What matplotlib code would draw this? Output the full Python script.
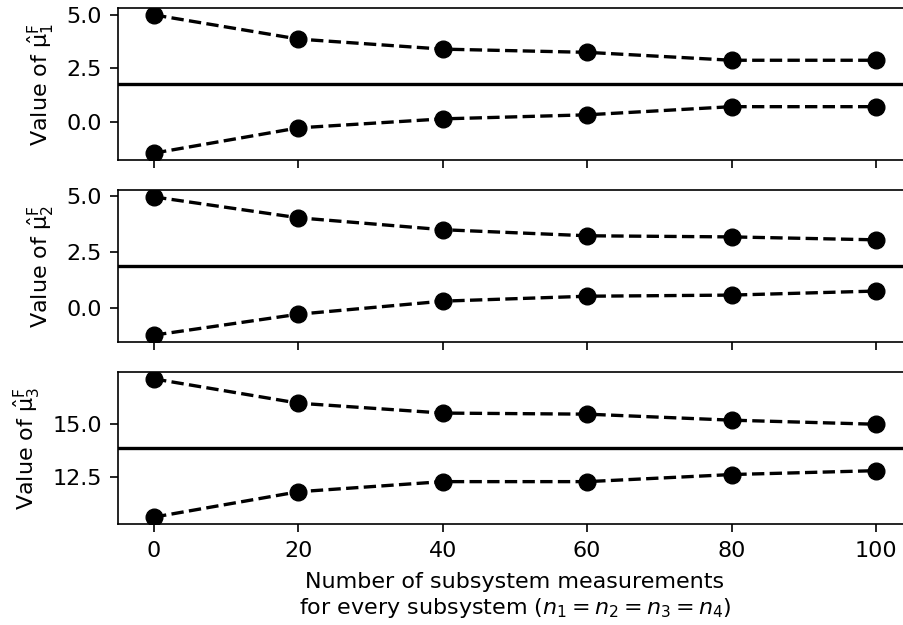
import numpy as np
import matplotlib.pyplot as plt

plt.rcParams.update({'font.size': 16,
                     'xtick.labelsize': 16,
                     'ytick.labelsize': 16,
                     'axes.labelsize': 16,
                     'axes.linewidth': 1.2,
                     'xtick.major.size': 6,
                     'ytick.major.size': 6,
                     'xtick.major.width': 1.2,
                     'ytick.major.width': 1.2,
                     'xtick.major.pad': 6.5,
                     'ytick.major.pad': 5.5})

n_meas = [0, 20, 40, 60, 80, 100]

# upper / lower estimates for each of the three parameters
upper_1 = [5.00, 3.87, 3.40, 3.25, 2.88, 2.88]
lower_1 = [-1.46, -0.28, 0.14, 0.33, 0.71, 0.71]
upper_2 = [4.96, 4.03, 3.50, 3.23, 3.18, 3.05]
lower_2 = [-1.19, -0.26, 0.32, 0.54, 0.59, 0.77]
upper_3 = [17.08, 15.95, 15.49, 15.44, 15.16, 14.97]
lower_3 = [10.65, 11.83, 12.30, 12.30, 12.63, 12.81]
true_vals = [1.79, 1.88, 13.88]

uppers = [upper_1, upper_2, upper_3]
lowers = [lower_1, lower_2, lower_3]
ylabels = [r'Value of $\hat{\mathrm{\mu}}^{\mathrm{F}}_1$',
           r'Value of $\hat{\mathrm{\mu}}^{\mathrm{F}}_2$',
           r'Value of $\hat{\mathrm{\mu}}^{\mathrm{F}}_3$']

fig = plt.figure(figsize=(9.04, 6.25), dpi=100)
W, H = 904, 625
left, right = 118, 912
tops = [8, 190, 372]
height = 152
axes = []
for i in range(3):
    ax = fig.add_axes([left / W, 1 - (tops[i] + height) / H, (right - left) / W, height / H],
                      sharex=axes[0] if axes else None)
    axes.append(ax)

for i, ax in enumerate(axes):
    ax.plot(n_meas, uppers[i], 'k--o', lw=2.4, ms=12)
    ax.plot(n_meas, lowers[i], 'k--o', lw=2.4, ms=12)
    ax.axhline(true_vals[i], color='k', lw=2.4)
    ax.set_ylabel(ylabels[i], labelpad=7)
    if i < 2:
        ax.tick_params(labelbottom=False)

axes[0].set_yticks([0.0, 2.5, 5.0])
axes[1].set_yticks([0.0, 2.5, 5.0])
axes[2].set_yticks([12.5, 15.0])
axes[2].set_xticks(n_meas)
axes[2].set_xlabel('Number of subsystem measurements\n'
                   r'for every subsystem ($n_1 = n_2 = n_3 = n_4$)', labelpad=8)

plt.savefig('out.png', dpi=100)
